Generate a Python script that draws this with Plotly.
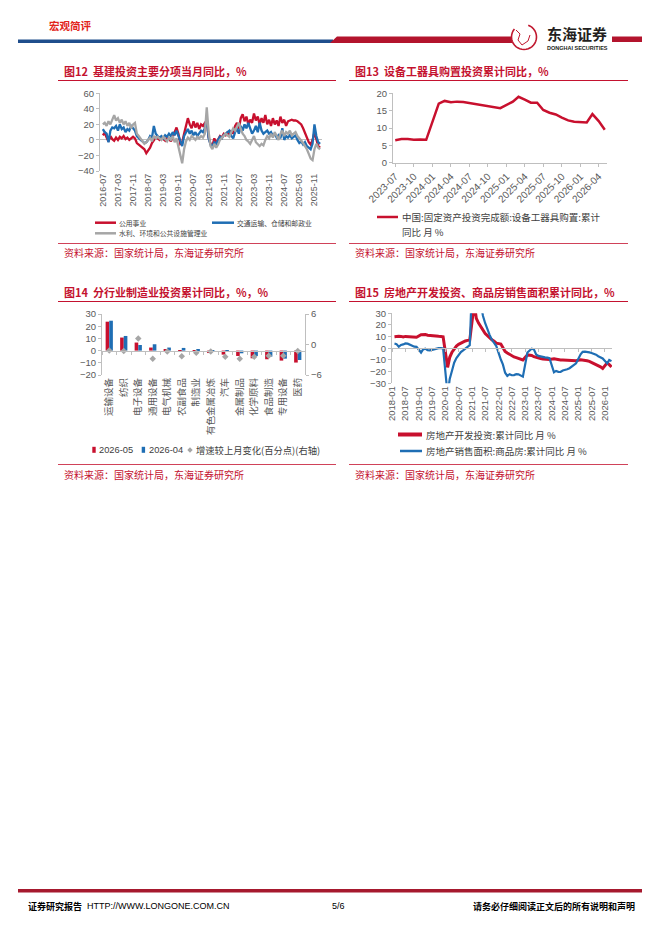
import math
import pandas as pd
import plotly.graph_objects as go

W, H = 662, 936

RED = '#C8102E'
BLUE = '#1F6EB4'
GRAY = '#A6A6A6'
AXIS = '#BFBFBF'
TICK = '#595959'
TITLE_RED = '#C4122F'
CN = 'Noto Sans CJK SC'
EN = 'Liberation Sans'

# ---------------- 图12 基建投资主要分项当月同比 ----------------
months12 = pd.period_range('2016-07', '2026-02', freq='M').strftime('%Y-%m').tolist()
utility = (
    [6, 9, 3, -2, 5, 1]
    + [-1, 3, 0, 4, 2, 5, 1, 3, 0, 2, 4, 2]
    + [-4, -6, -8, -9, -12, -17, -14, -10, -4, 0, 3, 2]
    + [0, 3, 1, -1, 4, 2, -2, 5, 10, 16, 8, -5]
    + [-3, 8, 18, 28, 20, 15, 24, 16, 22, 14, 20, 18]
    + [22, 25, 3, -5, -8, 2, -4, 0, 5, 3, 8, 6]
    + [10, 5, 12, 8, 18, 22, 14, 28, 33, 24, 30, 20]
    + [26, 22, 34, 25, 30, 20, 28, 22, 32, 20, 26, 18]
    + [28, 20, 25, 18, 30, 22, 26, 18, 24, 25, 26, 25]
    + [25, 24, 22, 20, 15, 8, 2, -3, -6, 0, 10, 2]
    + [-8, -10]
)
transport = (
    [14, 10, 8, -3, 12, 16]
    + [15, 18, 12, 20, 14, 16, 10, 14, 12, 18, 15, 12]
    + [5, 2, 0, -2, -4, -3, 0, 5, 3, 18, 8, 5]
    + [3, 5, 2, 6, 4, 8, 5, 10, 6, 12, 5, -2]
    + [-8, 5, 10, 14, 8, 12, 6, 10, 5, 8, 12, 10]
    + [15, 28, 2, -6, -8, -3, -5, 0, 4, 2, 6, 8]
    + [10, 12, 5, 2, 10, 15, 8, 18, 12, 20, 15, 22]
    + [15, 8, 12, 18, 10, 22, 12, 8, 10, 12, 8, 10]
    + [5, 8, 3, 6, 2, 15, 0, 5, 3, 6, 2, 4]
    + [6, 0, -4, -2, -6, -3, -8, -10, -12, -5, 20, 5]
    + [-3, -5]
)
water = (
    [20, 22, 18, 24, 20, 26]
    + [32, 25, 28, 22, 26, 20, 24, 18, 22, 15, 20, 22]
    + [8, 5, 2, -2, -5, -3, 0, 3, -2, 5, 2, 4]
    + [2, 0, 4, 1, -2, 3, 0, 5, -3, 2, -10, -20]
    + [-30, -12, -2, 3, 0, 5, 2, 0, 4, 2, 5, 3]
    + [8, 42, 10, -8, -12, -5, -10, -6, 0, 3, 5, 8]
    + [6, 4, 10, 15, 12, 18, 22, 14, 8, 5, 0, -2]
    + [-5, 0, 5, -3, -6, -8, -5, -7, 0, 5, 2, 8]
    + [3, 10, 5, 0, 8, 12, 5, 10, 8, 12, 6, 8]
    + [10, 5, 2, 0, -4, -8, -12, -18, -24, -26, -12, -5]
    + [-10, -12]
)
names12 = ['公用事业', '交通运输、仓储和邮政业', '水利、环境和公共设施管理业']

# ---------------- 图13 设备工器具购置投资累计同比 ----------------
dates13 = ['2023-07', '2023-08', '2023-09', '2023-10', '2023-11', '2023-12',
           '2024-02', '2024-03', '2024-04', '2024-05', '2024-06', '2024-07',
           '2024-08', '2024-09', '2024-10', '2024-11', '2024-12',
           '2025-02', '2025-03', '2025-04', '2025-05', '2025-06', '2025-07',
           '2025-08', '2025-09', '2025-10', '2025-11', '2025-12',
           '2026-02', '2026-03', '2026-04', '2026-05']
equipment = [6.5, 6.8, 6.8, 6.6, 6.7, 6.6,
             17.0, 17.8, 17.4, 17.6, 17.5, 17.2,
             17.0, 16.7, 16.3, 16.0, 15.7,
             17.6, 19.0, 18.2, 17.3, 17.3, 15.2,
             14.4, 13.9, 13.0, 12.2, 11.8,
             11.6, 14.0, 12.0, 9.5]
name13 = '中国:固定资产投资完成额:设备工器具购置:累计'
name13b = '同比 月 %'

# ---------------- 图14 分行业制造业投资累计同比 ----------------
industries = ['运输设备', '纺织', '电子设备', '通用设备', '电气机械', '农副食品', '制造业',
              '有色金属冶炼', '汽车', '金属制品', '化学原料', '食品制造', '专用设备', '医药']
may26 = [23.7, 10.7, 6.6, 2.5, 1.1, 0.3, -0.2, -2.0, -3.3, -4.4, -6.3, -7.1, -8.2, -9.8]
apr26 = [24.5, 12.0, 4.6, 5.2, 2.5, 2.2, 0.6, -1.0, -0.5, -2.2, -4.4, -4.9, -6.6, -7.7]
change = [-1.2, -1.3, 1.2, -2.8, -1.4, -2.3, -1.6, -1.4, -2.4, -2.8, -2.4, -2.2, -2.2, -1.3]
names14 = ['2026-05', '2026-04', '增速较上月变化(百分点)(右轴)']

# ---------------- 图15 房地产开发投资、商品房销售面积累计同比 ----------------
dates15 = [f'{y}-{m:02d}' for y in range(2018, 2026) for m in range(2, 13)] + ['2026-02', '2026-03', '2026-04']
re_invest = (
    [9.9, 10.4, 10.3, 10.2, 9.7, 10.2, 10.1, 9.9, 9.7, 9.7, 9.5]
    + [11.6, 11.8, 11.9, 11.2, 10.9, 10.6, 10.5, 10.5, 10.3, 10.2, 9.9]
    + [-16.3, -7.7, -3.3, -0.3, 1.9, 3.4, 4.6, 5.6, 6.3, 6.8, 7.0]
    + [38.3, 25.6, 21.6, 18.3, 15.0, 12.7, 10.9, 8.8, 7.2, 6.0, 4.4]
    + [3.7, 0.7, -2.7, -4.0, -5.4, -6.4, -7.4, -8.0, -8.8, -9.8, -10.0]
    + [-5.7, -5.8, -6.2, -7.2, -7.9, -8.5, -8.8, -9.1, -9.3, -9.4, -9.6]
    + [-9.0, -9.5, -9.8, -10.1, -10.1, -10.2, -10.2, -10.1, -10.3, -10.4, -10.6]
    + [-9.8, -9.9, -10.3, -10.7, -11.2, -12.0, -12.9, -13.9, -14.7, -15.9, -17.2]
    + [-12.5, -14.0, -16.0]
)
re_sales = (
    [4.1, 3.6, 1.3, 2.9, 3.3, 4.2, 4.0, 2.9, 2.2, 1.4, 1.3]
    + [-3.6, -0.9, -0.3, -1.6, -1.8, -1.3, -0.6, -0.1, 0.1, 0.2, -0.1]
    + [-39.9, -26.3, -19.3, -12.3, -8.4, -5.8, -3.3, -1.8, 0.0, 1.3, 2.6]
    + [104.9, 63.8, 48.1, 36.3, 27.7, 21.5, 15.9, 11.3, 7.3, 4.8, 1.9]
    + [-9.6, -13.8, -20.9, -23.6, -22.2, -23.1, -23.0, -22.2, -22.3, -23.3, -24.3]
    + [-3.6, -1.8, -0.4, -0.9, -5.3, -6.5, -7.1, -7.5, -7.8, -8.0, -8.5]
    + [-20.5, -19.4, -20.2, -20.3, -19.0, -18.6, -18.0, -17.1, -15.8, -14.3, -12.9]
    + [-5.1, -3.0, -2.8, -2.9, -3.5, -4.0, -4.7, -5.5, -6.8, -7.8, -8.7]
    + [-13.0, -10.0, -11.0]
)
names15 = ['房地产开发投资:累计同比 月 %', '房地产销售面积:商品房:累计同比 月 %']

titles = ['图12  基建投资主要分项当月同比，%', '图13  设备工器具购置投资累计同比，%',
          '图14  分行业制造业投资累计同比，%，%', '图15  房地产开发投资、商品房销售面积累计同比，%']
source = '资料来源：国家统计局，东海证券研究所'


def fx(px):
    return px / W


def fy(py):
    return 1 - py / H


fig = go.Figure()

# chart 12
for vals, col, nm in zip([utility, transport, water], [RED, BLUE, GRAY], names12):
    fig.add_trace(go.Scatter(x=months12, y=vals, name=nm, mode='lines',
                             line=dict(color=col, width=2.3), xaxis='x', yaxis='y'))
# chart 13
fig.add_trace(go.Scatter(x=dates13, y=equipment, name=name13, mode='lines',
                         line=dict(color=RED, width=2.5), xaxis='x2', yaxis='y2'))
# chart 14
fig.add_trace(go.Bar(x=industries, y=may26, name=names14[0], marker_color=RED,
                     xaxis='x3', yaxis='y3'))
fig.add_trace(go.Bar(x=industries, y=apr26, name=names14[1], marker_color=BLUE,
                     xaxis='x3', yaxis='y3'))
fig.add_trace(go.Scatter(x=industries, y=change, name=names14[2], mode='markers',
                         marker=dict(symbol='diamond', size=5, color=GRAY),
                         xaxis='x3', yaxis='y5'))
fig.add_trace(go.Scatter(x=[], y=[], xaxis='x5', yaxis='y3', hoverinfo='skip'))
# chart 15
fig.add_trace(go.Scatter(x=dates15, y=re_invest, name=names15[0], mode='lines',
                         line=dict(color=RED, width=3), xaxis='x4', yaxis='y4'))
fig.add_trace(go.Scatter(x=dates15, y=re_sales, name=names15[1], mode='lines',
                         line=dict(color=BLUE, width=2.2), xaxis='x4', yaxis='y4'))
fig.add_trace(go.Scatter(x=[], y=[], xaxis='x6', yaxis='y4', hoverinfo='skip'))

d12x, d12y = [fx(100), fx(322)], [fy(171), fy(93.3)]
d13x, d13y = [fx(393), fx(607)], [fy(162.7), fy(93.3)]
d14x, d14y = [fx(102), fx(305)], [fy(375), fy(314)]
d15x, d15y = [fx(392), fx(612)], [fy(383.3), fy(313.3)]

tickf = dict(family=EN, size=9.5, color=TICK)
ycommon = dict(showgrid=False, showline=True, linecolor=AXIS, linewidth=1,
               ticks='outside', ticklen=3, tickcolor=AXIS, tickfont=tickf, zeroline=False)

zero14 = d14y[0] + (d14y[1] - d14y[0]) * 20 / 50
zero15 = d15y[0] + (d15y[1] - d15y[0]) * 0.5

fig.update_layout(
    width=W, height=H, template='none', showlegend=False,
    margin=dict(l=0, r=0, t=0, b=0),
    paper_bgcolor='white', plot_bgcolor='white',
    bargap=0.5, bargroupgap=0,
    xaxis=dict(domain=d12x, anchor='y', type='category', range=[-1.5, 116],
               tickvals=months12[::8], tickangle=-90, tickfont=dict(family=EN, size=9, color=TICK),
               showgrid=False, showline=False, ticks='', zeroline=False),
    yaxis=dict(domain=d12y, anchor='x', range=[-40, 60], dtick=20, **{**ycommon, 'zeroline': True},
               zerolinecolor=AXIS, zerolinewidth=1),
    xaxis2=dict(domain=d13x, anchor='y2', type='date', range=['2023-06-20', '2026-05-12'],
                dtick='M3', tick0='2023-07-01', tickformat='%Y-%m', tickangle=-45,
                tickfont=dict(family=EN, size=10, color=TICK),
                showgrid=False, showline=True, linecolor=AXIS, ticks='outside', ticklen=3,
                tickcolor=AXIS),
    yaxis2=dict(domain=d13y, anchor='x2', range=[0, 20], dtick=5, **ycommon),
    xaxis3=dict(domain=d14x, anchor='y3', type='category', range=[-0.5, 13.5],
                tickangle=-90, tickfont=dict(family=CN, size=9.5, color=TICK),
                showgrid=False, showline=False, ticks='', zeroline=False),
    yaxis3=dict(domain=d14y, anchor='x3', range=[-20, 30], dtick=10, **ycommon),
    yaxis5=dict(overlaying='y3', side='right', anchor='x3', range=[-6, 6],
                tickvals=[-6, 0, 6], **ycommon),
    xaxis5=dict(overlaying='x3', anchor='free', position=zero14, type='linear',
                range=[-0.5, 13.5], tickvals=[i - 0.5 for i in range(15)],
                showticklabels=False, showgrid=False, zeroline=False,
                showline=True, linecolor=AXIS, ticks='outside', ticklen=3, tickcolor=AXIS),
    xaxis4=dict(domain=d15x, anchor='y4', type='date', range=['2017-12-29', '2026-04-08'],
                dtick='M6', tick0='2018-01-01', tickformat='%Y-%m', tickangle=-90,
                tickfont=dict(family=EN, size=9.5, color=TICK),
                showgrid=False, showline=False, ticks='', zeroline=False),
    yaxis4=dict(domain=d15y, anchor='x4', range=[-30, 30], dtick=10, **ycommon),
    xaxis6=dict(overlaying='x4', anchor='free', position=zero15, type='date',
                range=['2017-12-29', '2026-04-08'], dtick='M6', tick0='2018-01-01',
                showticklabels=False, showgrid=False, zeroline=False,
                showline=True, linecolor=AXIS, ticks='outside', ticklen=3, tickcolor=AXIS),
)


def ann(text, x, y, size, color='#000000', xanchor='left', bold=False, family=CN):
    text = text.replace('  ', '\u00a0\u00a0')
    fig.add_annotation(text=f'<b>{text}</b>' if bold else text, x=fx(x), y=fy(y),
                       xref='paper', yref='paper', xanchor=xanchor, yanchor='middle',
                       showarrow=False, font=dict(size=size, color=color, family=family))


def seg(x0, x1, y0, y1, color, width):
    fig.add_shape(type='line', xref='paper', yref='paper', x0=fx(x0), x1=fx(x1),
                  y0=fy(y0), y1=fy(y1), line=dict(color=color, width=width))


def poly(points, color, fill=True, width=0):
    path = 'M ' + ' L '.join(f'{fx(a):.5f},{fy(b):.5f}' for a, b in points)
    if fill:
        path += ' Z'
    fig.add_shape(type='path', xref='paper', yref='paper', path=path,
                  fillcolor=color if fill else None,
                  line=dict(color=color, width=width))


# header
ann('宏观简评', 47, 25, 10.5, '#E2231A', bold=True)
poly([(18, 39.5), (333, 39.5), (333, 43), (18, 43)], '#1F4E8C')
poly([(330, 43), (337, 36.5), (512, 36.5), (512, 43)], '#B3142D')
poly([(612, 36.5), (642, 36.5), (642, 42), (612, 42)], '#B3142D')
arc = [(524 + 12.5 * math.cos(math.radians(a)), 37 - 12.5 * math.sin(math.radians(a)))
       for a in range(140, 440, 10)]
poly(arc, '#C0182F', fill=False, width=1.6)
poly([(516, 30), (520, 34), (518, 40), (522, 45), (528, 41), (530, 35)], '#C0182F', fill=False, width=1)
ann('东海证券', 577, 33.5, 15, '#231F20', xanchor='center', bold=True)
ann('DONGHAI SECURITIES', 577, 47.5, 5.5, '#231F20', xanchor='center', bold=True, family=EN)

# footer
poly([(18, 889), (642, 889), (642, 892.5), (18, 892.5)], '#A6192E')
ann('证券研究报告', 26, 906, 9, bold=True)
ann('HTTP://WWW.LONGONE.COM.CN', 85, 906, 9, family=EN)
ann('5/6', 338, 906, 9, xanchor='center', family=EN)
ann('请务必仔细阅读正文后的所有说明和声明', 637, 906, 9, xanchor='right', bold=True)

# chart frames: titles, rules, sources
for i, (lx, rx, ty) in enumerate([(58, 336, 71), (349, 628, 71), (58, 336, 292), (349, 628, 292)]):
    ann(titles[i], lx + 4, ty, 11, TITLE_RED, bold=True)
    seg(lx, rx, ty + 9.5, ty + 9.5, TITLE_RED, 1.2)
    seg(lx, rx, ty + 172.5, ty + 172.5, TITLE_RED, 0.8)
    ann(source, lx + 4, ty + 182, 10, TITLE_RED)

# legends
LEG = '#404040'
seg(95, 116, 222.7, 222.7, RED, 2.5)
ann(names12[0], 117, 222.7, 6.8, LEG)
seg(212, 234, 222.7, 222.7, BLUE, 2.5)
ann(names12[1], 235, 222.7, 6.8, LEG)
seg(95, 116, 233.3, 233.3, GRAY, 2.5)
ann(names12[2], 117, 233.3, 6.8, LEG)

seg(377, 398, 217, 217, RED, 2.5)
ann(name13, 400, 217, 9.5, LEG)
ann(name13b, 400, 232, 9.5, LEG)

poly([(92.3, 446.8), (95.7, 446.8), (95.7, 452.8), (92.3, 452.8)], RED)
ann(names14[0], 97, 450, 9.3, LEG, family=EN)
poly([(141.7, 446.8), (145.1, 446.8), (145.1, 452.8), (141.7, 452.8)], BLUE)
ann(names14[1], 146.5, 450, 9.3, LEG, family=EN)
poly([(190, 447.3), (192.7, 450), (190, 452.7), (187.3, 450)], GRAY)
ann(names14[2], 194, 450, 9.3, LEG)

seg(398, 422, 434.5, 434.5, RED, 4)
ann(names15[0], 423.5, 434.5, 9.5, LEG)
seg(400, 422, 451, 451, BLUE, 2.5)
ann(names15[1], 423.5, 451, 9.5, LEG)

# the page's default 8px body margin would shift the whole figure
fig.write_html('out.html', config={'displayModeBar': False},
               post_script="document.body.style.margin='0';")
